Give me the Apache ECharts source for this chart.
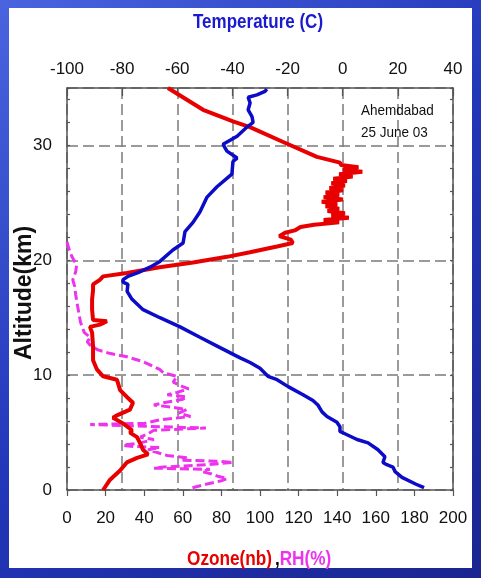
<!DOCTYPE html>
<html>
<head>
<meta charset="utf-8">
<script src="https://cdn.jsdelivr.net/npm/echarts@6/dist/echarts.min.js"></script>
<style>
html,body{margin:0;padding:0;background:#2a3cc0;}
#c{width:481px;height:578px;}
</style>
</head>
<body>
<div id="c"></div>
<script>
// Temperature profile (C) vs altitude (km)
const tempAlt = [0.2,0.5,1.1,1.6,2.0,2.2,2.4,2.9,3.5,4.1,4.4,4.9,5.1,5.5,5.9,6.4,6.8,7.4,7.8,8.3,9.0,9.6,9.9,10.6,11.1,11.5,12.4,13.3,14.2,15.0,15.7,16.6,17.3,17.9,18.1,18.3,18.6,19.0,19.4,19.9,20.9,21.5,22.5,23.3,24.2,25.5,26.4,27.5,28.6,28.9,29.5,30.1,30.8,31.6,32.0,32.5,33.1,33.7,34.2,34.4,34.7,34.9];
const tempVal = [29.5,26.6,21.5,19,18.2,16,14.6,15.3,12.8,9.2,5.2,0.8,-1,-1,-2.1,-5.7,-7.5,-9,-10.8,-14.4,-19.8,-23.8,-27.1,-30,-33.6,-37.2,-44.5,-51.8,-59,-66.3,-72.4,-76.4,-78.2,-77.9,-79.7,-79.7,-77.9,-73.5,-69.9,-66.3,-61.6,-57.9,-57.2,-54.3,-51.8,-49.2,-45.6,-40.2,-39.8,-38.3,-42,-43.4,-38.3,-34.7,-32.5,-32.9,-34.3,-33.6,-34.3,-31.1,-28.2,-27.5];

// Ozone (nb) vs altitude (km)
const ozoneAlt = [0,0.9,1.7,2.4,2.8,3.1,3.5,4.1,4.6,5.0,5.2,5.8,6.3,6.5,7.0,7.6,8.1,8.7,9.6,9.9,10.5,11.3,12.5,13.7,14.2,14.4,14.7,14.8,15.7,16.6,17.4,17.9,18.3,18.6,18.9,19.4,19.8,20.3,20.7,21.2,21.5,21.8,22.1,22.4,22.6,22.9,23.1,23.3,23.5,23.7,23.9,24.1,24.3,24.5,24.7,24.9,25.1,25.3,25.5,25.7,25.9,26.1,26.3,26.5,26.7,26.9,27.1,27.3,27.5,27.7,27.9,28.1,28.3,28.5,29.0,30.3,31.6,32.1,33.1,35.0];
const ozoneVal = [18.7,22.3,27.5,31,36.3,42,39.4,37.8,36.3,32.6,33.7,29,23.8,25.9,32.6,34.2,31,27.5,25.9,18.7,15.5,13.5,13.5,13,11.9,17,20.7,13.5,13,13,13.5,13.5,17,18.7,31,48,65.3,82.9,94.8,108.8,117,116,110,113,118,121,128,141,133,146,137,144,135,141,134,140,132,143,133,141,134,143,136,144,137,145,138,148,141,153,143,151,142,141.5,129.5,112,94.8,86,70.5,52.3];

// Relative humidity (%) vs altitude (km)
const rhAlt = [0.2,0.5,0.8,1.0,1.2,1.4,1.6,1.8,1.9,2.0,2.2,2.4,2.5,2.6,2.8,3.0,3.2,3.5,3.7,3.8,3.9,4.1,4.4,4.6,4.9,5.2,5.4,5.5,5.7,5.8,6.1,6.4,6.7,7.0,7.2,7.4,7.6,7.9,8.1,8.3,8.5,8.8,9.0,9.4,9.9,10.2,10.5,10.9,11.2,11.6,11.9,12.2,12.6,12.9,13.3,13.7,14.6,16.0,17.0,17.7,18.3,19.0,19.6,20.3,21.0,21.6];
const rhVal = [65,72,80,83,78,75,70,74,45,50,72,86,78,60,62,52,48,42,48,33,29,38,45,38,42,45,72,50,12,40,48,64,58,62,55,45,50,60,62,52,57,63,60,55,57,50,48,43,39,31,22,16,12,10.5,12,9,7,5.5,4.5,4,3,4.5,5,2.6,1,0];

// Tick labels
const altTicks = [0,10,20,30];
const tempTicks = [-100,-80,-60,-40,-20,0,20,40];
const ozoneTicks = [0,20,40,60,80,100,120,140,160,180,200];

const zip = (ys, xs) => ys.map((y, i) => [xs[i], y]);

const FONT = "'Liberation Sans',Arial,sans-serif";
const axisGray = '#555555';
const gridGray = '#7a7a7a';

const chart = echarts.init(document.getElementById('c'), null, {renderer: 'canvas'});
chart.setOption({
  animation: false,
  backgroundColor: new echarts.graphic.LinearGradient(0, 0, 1, 1, [
    {offset: 0, color: '#4a64e0'},
    {offset: 0.5, color: '#2236b8'},
    {offset: 1, color: '#1a2590'}
  ]),
  graphic: [
    {type: 'rect', z: -10, shape: {x: 9, y: 8, width: 463, height: 560}, style: {fill: '#ffffff'}},
    {type: 'text', z: 10, x: 193, y: 12, scaleX: 0.85, style: {text: 'Temperature (C)', fill: '#1a1ad0', font: "bold 20px " + FONT, verticalAlign: 'top'}},
    {type: 'text', z: 10, x: 187, y: 549, scaleX: 0.86, style: {
      text: '{o|Ozone(nb)} {k|,}{r|RH(%)}',
      verticalAlign: 'top',
      rich: {
        o: {fill: '#e60000', font: "bold 20px " + FONT},
        k: {fill: '#000000', font: "bold 20px " + FONT},
        r: {fill: '#ee33ee', font: "bold 20px " + FONT}
      }
    }},
    {type: 'text', z: 10, x: 13, y: 360, rotation: Math.PI / 2, style: {text: 'Altitude(km)', fill: '#111', font: "bold 23px " + FONT, verticalAlign: 'top'}},
    {type: 'text', z: 10, x: 361, y: 100, scaleX: 0.9, style: {text: 'Ahemdabad\n25 June 03', fill: '#111', font: "15px " + FONT, lineHeight: 22, verticalAlign: 'top'}}
  ],
  grid: {left: 67, right: 28, top: 88, bottom: 88, containLabel: false},
  xAxis: [
    {
      type: 'value', position: 'bottom', min: ozoneTicks[0], max: ozoneTicks[ozoneTicks.length - 1], interval: 20,
      axisLine: {onZero: false, lineStyle: {color: axisGray, width: 1.5}},
      axisTick: {show: true, inside: false, length: 6, lineStyle: {color: axisGray, width: 1.2}},
      axisLabel: {margin: 20, color: '#111', fontFamily: FONT, fontSize: 17},
      splitLine: {show: false}
    },
    {
      type: 'value', position: 'top', min: tempTicks[0], max: tempTicks[tempTicks.length - 1], interval: 20,
      axisLine: {onZero: false, lineStyle: {color: axisGray, width: 1.5}},
      axisTick: {show: true, inside: true, length: 8, lineStyle: {color: axisGray, width: 1.2}},
      axisLabel: {margin: 10, color: '#111', fontFamily: FONT, fontSize: 17},
      splitLine: {show: true, lineStyle: {color: gridGray, width: 1.5, type: [11, 5]}}
    }
  ],
  yAxis: [
    {
      type: 'value', position: 'left', min: altTicks[0], max: 35, interval: 10,
      axisLine: {onZero: false, lineStyle: {color: axisGray, width: 1.5}},
      axisTick: {show: false},
      axisLabel: {margin: 15, color: '#111', fontFamily: FONT, fontSize: 17, showMaxLabel: false},
      splitLine: {show: true, lineStyle: {color: gridGray, width: 1.5, type: [11, 5]}}
    },
    {
      type: 'value', position: 'left', min: 0, max: 35, interval: 2,
      axisLine: {show: false, onZero: false},
      axisTick: {show: true, inside: true, length: 3, lineStyle: {color: axisGray, width: 1.2}},
      axisLabel: {show: false},
      splitLine: {show: false}
    },
    {
      type: 'value', position: 'right', min: 0, max: 35, interval: 2,
      axisLine: {show: true, onZero: false, lineStyle: {color: axisGray, width: 1.5}},
      axisTick: {show: true, inside: true, length: 3, lineStyle: {color: axisGray, width: 1.2}},
      axisLabel: {show: false},
      splitLine: {show: false}
    }
  ],
  series: [
    {
      name: 'RH', type: 'line', xAxisIndex: 0, yAxisIndex: 0, showSymbol: false, z: 3,
      data: zip(rhAlt, rhVal),
      lineStyle: {color: '#ee33ee', width: 3, type: [9, 4]}
    },
    {
      name: 'Ozone', type: 'line', xAxisIndex: 0, yAxisIndex: 0, showSymbol: false, z: 4,
      data: zip(ozoneAlt, ozoneVal),
      lineStyle: {color: '#e80000', width: 4}
    },
    {
      name: 'Temperature', type: 'line', xAxisIndex: 1, yAxisIndex: 0, showSymbol: false, z: 5,
      data: zip(tempAlt, tempVal),
      lineStyle: {color: '#0b0bc8', width: 3.5}
    }
  ]
});
</script>
</body>
</html>
